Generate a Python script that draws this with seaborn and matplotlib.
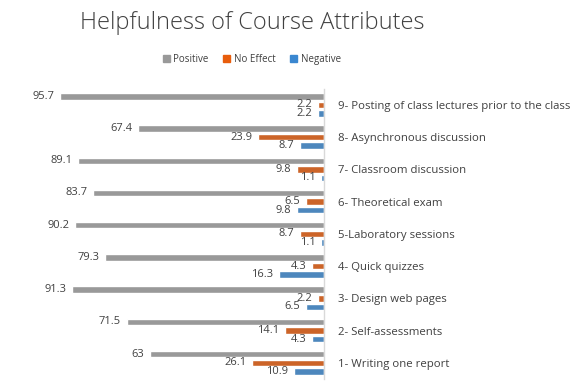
import pandas as pd
import numpy as np
import matplotlib.pyplot as plt
import seaborn as sns

# data
attributes = [
    '9- Posting of class lectures prior to the class',
    '8- Asynchronous discussion',
    '7- Classroom discussion',
    '6- Theoretical exam',
    '5-Laboratory sessions',
    '4- Quick quizzes',
    '3- Design web pages',
    '2- Self-assessments',
    '1- Writing one report',
]
positive = [95.7, 67.4, 89.1, 83.7, 90.2, 79.3, 91.3, 71.5, 63]
no_effect = [2.2, 23.9, 9.8, 6.5, 8.7, 4.3, 2.2, 14.1, 26.1]
negative = [2.2, 8.7, 1.1, 9.8, 1.1, 16.3, 6.5, 4.3, 10.9]
series = ['Positive', 'No Effect', 'Negative']
colors = ['#999999', '#E85D0C', '#3A87D0']

df = pd.DataFrame({'attribute': attributes, 'Positive': positive,
                   'No Effect': no_effect, 'Negative': negative})
long = df.melt(id_vars='attribute', var_name='response', value_name='pct')

sns.set_style('white')
plt.rcParams['font.family'] = ['Open Sans', 'DejaVu Sans']

fig = plt.figure(figsize=(5.76, 3.91), dpi=100)
ax = fig.add_axes([0.083, 0.031, 0.4795, 0.742])

sns.barplot(data=long, y='attribute', x='pct', hue='response',
            hue_order=series, order=attributes, palette=colors,
            orient='h', width=0.8, ax=ax, legend=False)

# thin bars like the original, value label at the far (left) end
thick = 0.2
for bars in ax.containers:
    for p, v in zip(bars, bars.datavalues):
        c = p.get_y() + p.get_height() / 2
        p.set_height(thick)
        p.set_y(c - thick / 2)
        ax.annotate(f'{v:g}', xy=(v, c), xytext=(-4, 0), textcoords='offset points',
                    ha='right', va='center', fontsize=8, color='#404040')

ax.set_xlim(100, 0)
ax.set_ylim(8.5, -0.5)
ax.set_xlabel('')
ax.set_ylabel('')
ax.set_xticks([])
ax.yaxis.tick_right()
ax.tick_params(axis='y', length=0, pad=10, labelsize=8.2, labelcolor='#404040')
for s in ['left', 'top', 'bottom']:
    ax.spines[s].set_visible(False)
ax.spines['right'].set_color('#D9D9D9')
ax.spines['right'].set_linewidth(1)

fig.text(0.4375, 0.94, 'Helpfulness of Course Attributes', ha='center', va='center',
         fontsize=17, color='#404040', fontweight='light')

handles = [plt.Rectangle((0, 0), 1, 1, color=c) for c in colors]
fig.legend(handles, series, loc='center', bbox_to_anchor=(0.4375, 0.848), ncol=3,
           frameon=False, fontsize=7, handlelength=0.7, handleheight=0.7,
           handletextpad=0.4, columnspacing=1.5, labelcolor='#404040')

fig.savefig('out.png', dpi=100)
